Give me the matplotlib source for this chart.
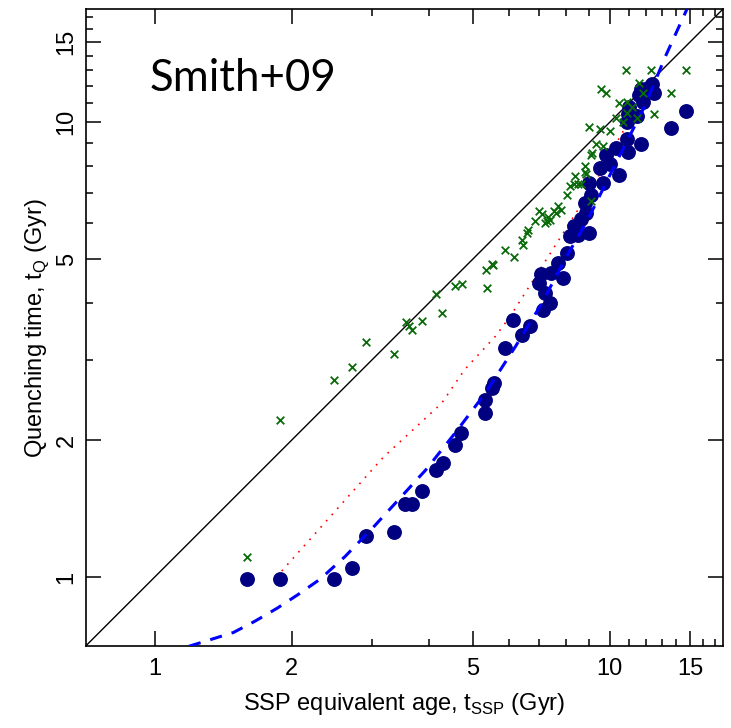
import matplotlib
matplotlib.use("Agg")
import matplotlib.pyplot as plt
from matplotlib.ticker import FixedLocator, NullFormatter

plt.rcParams['font.family'] = ['Liberation Sans', 'DejaVu Sans']
plt.rcParams['mathtext.fontset'] = 'custom'
plt.rcParams['mathtext.rm'] = 'Liberation Sans'

# quenched galaxies (blue circles)
blue_x = [1.60, 1.89, 2.48, 2.71, 2.92, 3.35, 3.55, 3.67, 3.87, 4.15, 4.31, 4.57,
          4.72, 5.33, 5.33, 5.50, 5.57, 5.89, 6.14, 6.42, 6.67, 7.14, 7.39, 7.19,
          7.00, 7.06, 7.44, 7.90, 7.69, 8.04, 8.17, 8.51, 9.01, 8.36, 8.65, 8.88,
          8.80, 9.10, 9.01, 9.65, 10.5, 9.51, 9.99, 9.83, 10.33, 10.88, 10.96, 11.7,
          13.6, 14.7, 10.88, 10.96, 11.0, 11.5, 11.8, 11.6, 11.7, 12.1, 12.4, 12.5]
blue_y = [0.99, 0.99, 0.99, 1.05, 1.23, 1.26, 1.45, 1.45, 1.55, 1.72, 1.78, 1.95,
          2.07, 2.30, 2.45, 2.60, 2.67, 3.19, 3.68, 3.41, 3.56, 3.87, 4.01, 4.21,
          4.43, 4.63, 4.67, 4.55, 4.90, 5.17, 5.62, 5.66, 5.71, 5.91, 6.12, 6.33,
          6.64, 6.93, 7.36, 7.36, 7.64, 7.94, 8.08, 8.49, 8.79, 9.18, 8.60, 8.95,
          9.70, 10.6, 10.0, 10.4, 10.8, 10.3, 11.1, 11.5, 11.8, 11.9, 12.1, 11.6]

# green crosses
green_x = [1.60, 1.89, 2.48, 2.71, 2.91, 3.35, 3.57, 3.63, 3.67, 3.87, 4.15, 4.29,
           4.57, 4.74, 5.34, 5.36, 5.50, 5.55, 5.89, 6.17, 6.45, 6.40, 6.57, 6.62,
           6.85, 7.00, 7.10, 7.26, 7.30, 7.20, 7.40, 7.55, 7.69, 7.80, 7.60, 8.04,
           8.17, 8.36, 8.51, 8.65, 8.39, 8.80, 9.10, 8.88, 8.80, 9.10, 9.15, 9.33,
           9.65, 9.99, 9.01, 9.51, 10.33, 9.58, 9.83, 10.5, 10.88, 10.88, 11.2, 11.6,
           11.8, 11.5, 12.5, 10.84, 12.3, 13.6, 14.7, 10.7]
green_y = [1.11, 2.21, 2.71, 2.90, 3.29, 3.10, 3.63, 3.56, 3.50, 3.65, 4.20, 3.81,
           4.36, 4.42, 4.74, 4.32, 4.89, 4.86, 5.25, 5.06, 5.38, 5.50, 5.71, 5.80,
           6.06, 6.37, 6.28, 6.06, 6.20, 6.00, 6.10, 6.37, 6.53, 6.40, 6.30, 6.93,
           7.23, 7.30, 7.30, 7.30, 7.62, 7.79, 6.70, 7.68, 8.02, 8.49, 8.55, 8.95,
           8.87, 9.58, 9.78, 9.66, 10.2, 11.8, 11.6, 11.0, 11.1, 10.5, 10.8, 12.2,
           11.6, 10.2, 10.4, 13.0, 13.0, 11.6, 13.0, 10.0]

# model curve (blue dashed)
model_x = [1.19, 1.49, 1.66, 1.86, 2.07, 2.31, 2.62, 3.05, 3.94, 4.60, 5.33,
           6.20, 7.06, 8.01, 8.95, 10.15, 11.93, 13.26, 14.8]
model_y = [0.705, 0.756, 0.80, 0.855, 0.917, 0.99, 1.11, 1.30, 1.72, 2.09, 2.54,
           3.21, 3.97, 5.04, 6.11, 7.88, 10.84, 13.98, 17.8]

# red dotted curve
red_x = [1.85, 3.11, 3.19, 4.27, 4.80, 5.60, 6.04, 9.18, 10.6, 12.0]
red_y = [1.00, 1.79, 1.84, 2.41, 2.86, 3.38, 3.74, 7.23, 9.41, 11.5]

lo, hi = 0.707, 17.7
major = [1, 2, 5, 10, 15]
minor = [3, 4, 6, 7, 8, 9, 11, 12, 13, 14, 16, 17]

fig = plt.figure(figsize=(7.31, 7.28), dpi=100)
ax = fig.add_axes([0.1176, 0.113, 0.8711, 0.8742])
ax.set_xscale('log')
ax.set_yscale('log')

ax.plot([lo, hi], [lo, hi], color='black', lw=1.0, zorder=2)
ax.plot(red_x, red_y, color='red', lw=1.2, dashes=(1, 4), zorder=2)
ax.plot(model_x, model_y, color='blue', lw=2.2, dashes=(4, 3.3), zorder=4)
ax.scatter(blue_x, blue_y, s=115, color='#000080', lw=0, zorder=3)
ax.scatter(green_x, green_y, s=30, marker='x', color='#0b6b0b', lw=1.3, zorder=5)

ax.set_xlim(lo, hi)
ax.set_ylim(lo, hi)
for a in (ax.xaxis, ax.yaxis):
    a.set_major_locator(FixedLocator(major))
    a.set_minor_locator(FixedLocator(minor))
    a.set_minor_formatter(NullFormatter())
ax.set_xticklabels([str(v) for v in major])
ax.set_yticklabels([str(v) for v in major], rotation=90, va='center')
ax.tick_params(which='both', direction='in', top=True, right=True, width=1.1, labelsize=17)
ax.tick_params(which='major', length=11)
ax.tick_params(axis='x', which='major', pad=9)
ax.tick_params(axis='y', which='major', pad=6)
ax.tick_params(which='minor', length=5)
for s in ax.spines.values():
    s.set_linewidth(1.2)

ax.set_xlabel(r'SSP equivalent age, t$_{\mathrm{SSP}}$ (Gyr)', fontsize=17, labelpad=8)
ax.set_ylabel(r'Quenching time, t$_{\mathrm{Q}}$ (Gyr)', fontsize=17, labelpad=3)

ax.text(0.10, 0.872, 'Smith+09', transform=ax.transAxes, fontsize=31.5,
        family='Lato', color='black')

fig.savefig('out.png', dpi=100)
